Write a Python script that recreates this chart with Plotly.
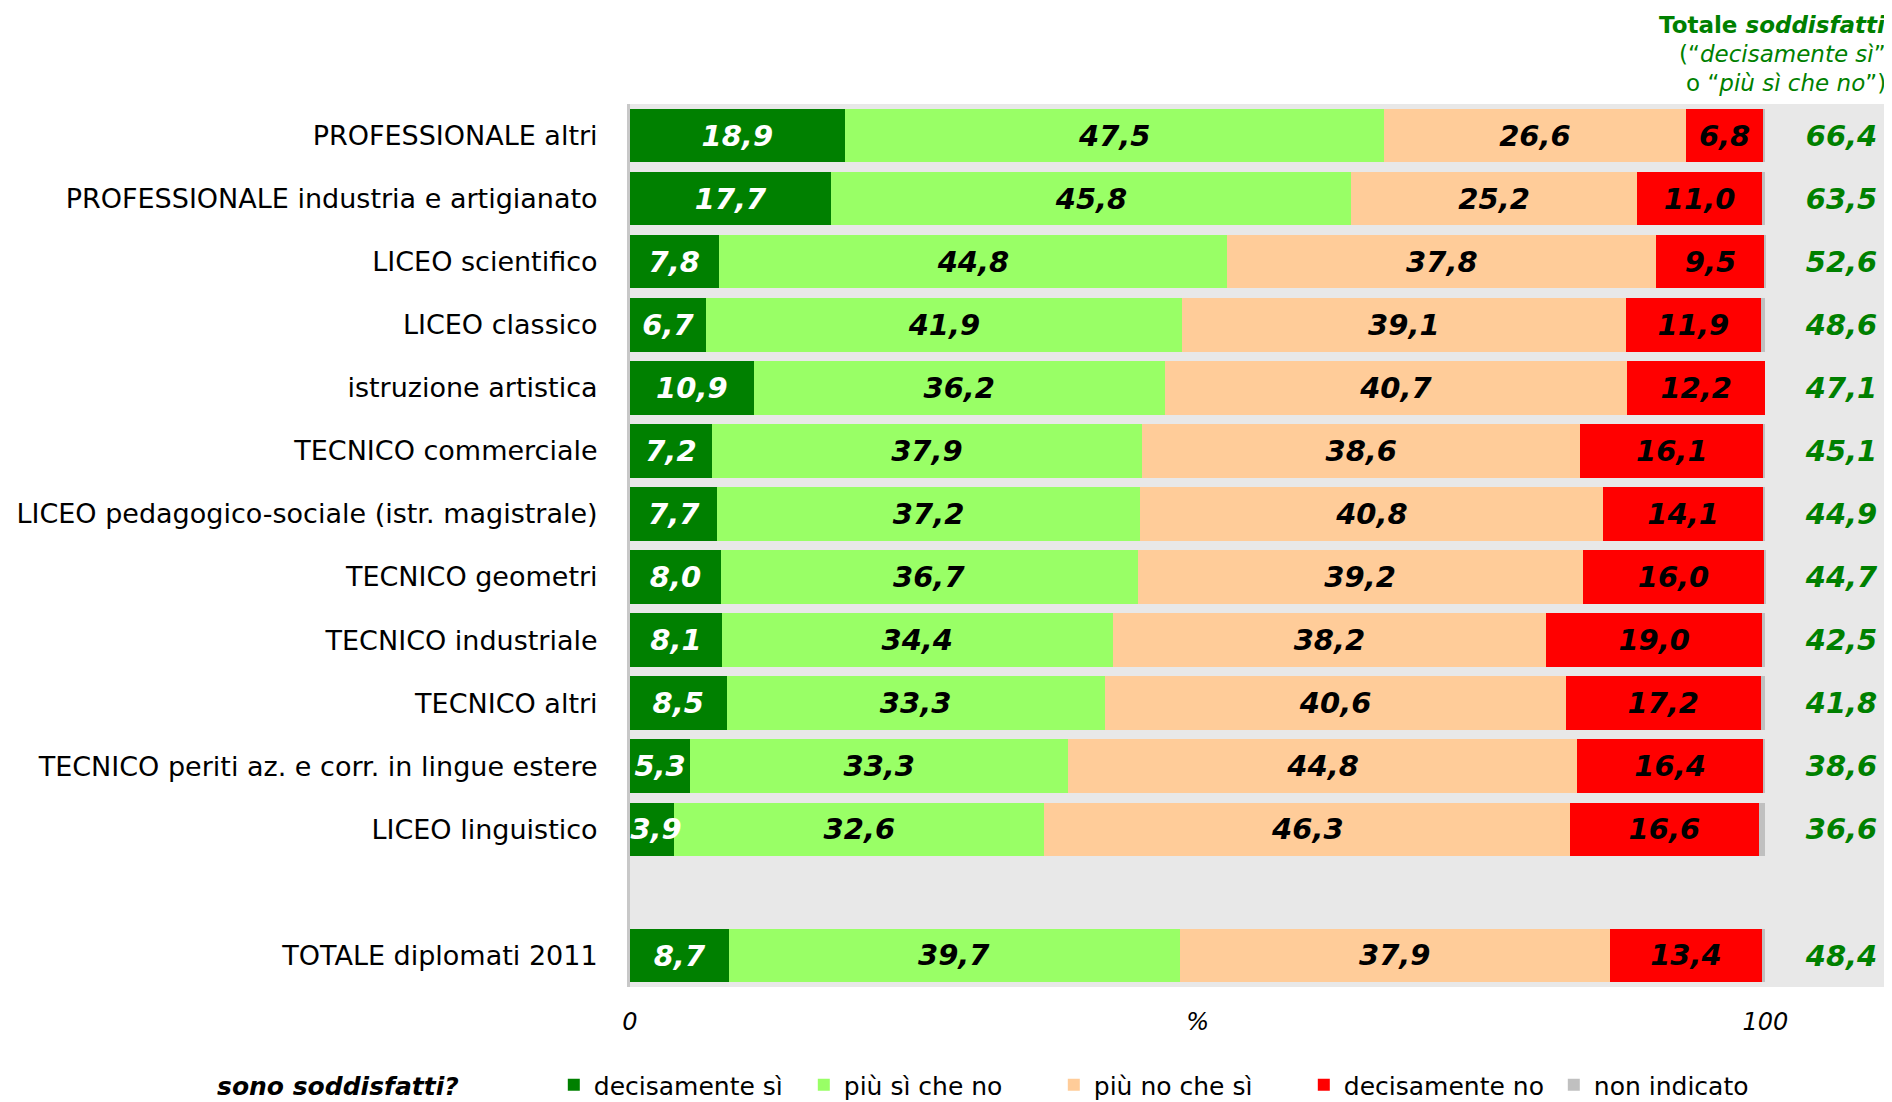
import plotly.graph_objects as go

# ---- data ----
categories = [
    "PROFESSIONALE altri",
    "PROFESSIONALE industria e artigianato",
    "LICEO scientifico",
    "LICEO classico",
    "istruzione artistica",
    "TECNICO commerciale",
    "LICEO pedagogico-sociale (istr. magistrale)",
    "TECNICO geometri",
    "TECNICO industriale",
    "TECNICO altri",
    "TECNICO periti az. e corr. in lingue estere",
    "LICEO linguistico",
    "TOTALE diplomati 2011",
]
decisamente_si = [18.9, 17.7, 7.8, 6.7, 10.9, 7.2, 7.7, 8.0, 8.1, 8.5, 5.3, 3.9, 8.7]
piu_si_che_no = [47.5, 45.8, 44.8, 41.9, 36.2, 37.9, 37.2, 36.7, 34.4, 33.3, 33.3, 32.6, 39.7]
piu_no_che_si = [26.6, 25.2, 37.8, 39.1, 40.7, 38.6, 40.8, 39.2, 38.2, 40.6, 44.8, 46.3, 37.9]
decisamente_no = [6.8, 11.0, 9.5, 11.9, 12.2, 16.1, 14.1, 16.0, 19.0, 17.2, 16.4, 16.6, 13.4]
non_indicato = [0.2, 0.3, 0.1, 0.4, 0.0, 0.2, 0.2, 0.1, 0.3, 0.4, 0.2, 0.6, 0.3]
totale_soddisfatti = [66.4, 63.5, 52.6, 48.6, 47.1, 45.1, 44.9, 44.7, 42.5, 41.8, 38.6, 36.6, 48.4]

series_names = ["decisamente sì", "più sì che no", "più no che sì", "decisamente no", "non indicato"]
tick_vals = [0, 50, 100]
tick_text = ["0", "%", "100"]

# ---- styling ----
FONT = "DejaVu Sans"
colors = ["#008000", "#99FF66", "#FFCC99", "#FF0000", "#C0C0C0"]
text_colors = ["#FFFFFF", "#000000", "#000000", "#000000", "#000000"]
GREEN = "#008000"
W, H = 1884, 1094  # page body has an 8px margin
LABEL_SIZE = 29
MIN_HALF_LABEL = 2.3   # keep narrow first-segment labels inside the plot area
TEXT_SHIFT = 0.045     # small downward shift (in category units) for text-only traces

spacer = " "
category_order = categories[:-1] + [spacer] + categories[-1:]


def fmt(v):
    return f"{v:.1f}".replace(".", ",")


fig = go.Figure()
all_series = [decisamente_si, piu_si_che_no, piu_no_che_si, decisamente_no, non_indicato]
for i, (name, vals, col, tcol) in enumerate(zip(series_names, all_series, colors, text_colors)):
    show_text = i in (1, 2, 3)
    fig.add_trace(go.Bar(
        name=name,
        y=categories,
        x=vals,
        orientation="h",
        marker=dict(color=col, line=dict(width=0)),
        width=0.85,
        text=[fmt(v) for v in vals] if show_text else None,
        textposition="inside" if show_text else "none",
        insidetextanchor="middle",
        textangle=0,
        constraintext="none",
        insidetextfont=dict(family=FONT, size=LABEL_SIZE, color=tcol, weight="bold", style="italic"),
        hoverinfo="skip",
    ))

# labels of the first (dark green) segment, nudged right when the segment is too narrow
fig.add_trace(go.Scatter(
    x=[max(v / 2, MIN_HALF_LABEL) for v in decisamente_si],
    y=categories,
    yaxis="y2",
    mode="text",
    text=[fmt(v) for v in decisamente_si],
    textposition="middle center",
    textfont=dict(family=FONT, size=LABEL_SIZE, color="#FFFFFF", weight="bold", style="italic"),
    showlegend=False,
    hoverinfo="skip",
))

# totals column
fig.add_trace(go.Scatter(
    x=[106.7] * len(categories),
    y=categories,
    yaxis="y2",
    mode="text",
    text=[fmt(v) for v in totale_soddisfatti],
    textposition="middle center",
    textfont=dict(family=FONT, size=LABEL_SIZE, color=GREEN, weight="bold", style="italic"),
    showlegend=False,
    hoverinfo="skip",
))

# header (top right)
header_lines = [
    ("<b>Totale <i>soddisfatti</i></b>", 1.0896),
    ("(“<i>decisamente sì</i>”", 1.0567),
    ("o “<i>più sì che no</i>”)", 1.0237),
]
for txt, yy in header_lines:
    fig.add_annotation(
        text=txt, xref="paper", yref="paper", x=1.0, y=yy,
        xanchor="right", yanchor="middle", showarrow=False, xshift=4,
        font=dict(family=FONT, size=23, color=GREEN),
    )

fig.update_layout(
    width=W, height=H,
    barmode="stack",
    bargap=0.15,
    paper_bgcolor="white",
    plot_bgcolor="#E8E8E8",
    margin=dict(l=617, r=8, t=96, b=115),
    font=dict(family=FONT, size=24, color="#000000"),
    xaxis=dict(
        range=[0, 110.44],
        tickvals=tick_vals, ticktext=tick_text,
        tickfont=dict(family=FONT, size=24, style="italic", color="#000000"),
        showgrid=False, zeroline=False, showline=False,
        ticks="", ticklabelstandoff=18,
        fixedrange=True,
    ),
    yaxis=dict(
        type="category",
        categoryorder="array", categoryarray=category_order,
        range=[13.5, -0.5],
        tickfont=dict(family=FONT, size=27, color="#000000"),
        showgrid=False, zeroline=False,
        showline=True, linecolor="#C8C8C8", linewidth=3,
        ticks="", ticklabelstandoff=24,
        fixedrange=True,
    ),
    yaxis2=dict(
        type="category", overlaying="y", visible=False,
        categoryorder="array", categoryarray=category_order,
        range=[13.5 - TEXT_SHIFT, -0.5 - TEXT_SHIFT],
        fixedrange=True,
    ),
    legend=dict(
        orientation="h",
        xref="container", yref="container",
        x=207 / W, y=1 - 1077 / H,
        xanchor="left", yanchor="middle",
        title=dict(text="sono soddisfatti?" + "\u00a0" * 10, side="left",
                   font=dict(family=FONT, size=25, weight="bold", style="italic", color="#000000")),
        font=dict(family=FONT, size=25, color="#000000"),
        entrywidth=205, entrywidthmode="pixels",
        traceorder="normal",
        bgcolor="rgba(0,0,0,0)",
    ),
    showlegend=True,
)

fig.write_html("out.html")
